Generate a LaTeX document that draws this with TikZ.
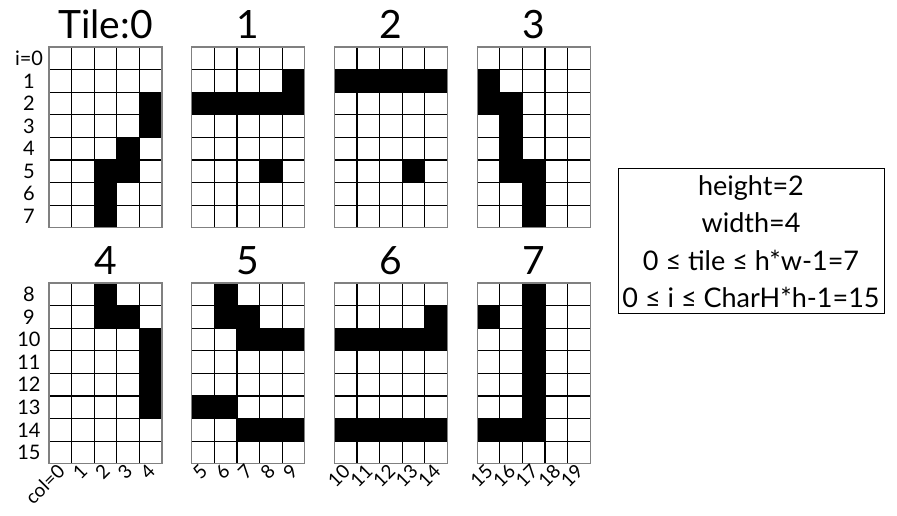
\documentclass[tikz,border=0pt]{standalone}
\usepackage{fontspec}
\setmainfont{Lato}
\begin{document}
\begin{tikzpicture}
  [x=1pt,y=1pt,line width=1.2pt,
   title/.style={font=\fontsize{39}{42}\selectfont,anchor=base,inner sep=0pt},
   rowlabel/.style={font=\fontsize{20}{22}\selectfont,inner sep=0pt},
   collabel/.style={font=\fontsize{19}{21}\selectfont,rotate=45,anchor=east,inner sep=1pt},
   infobox/.style={draw,line width=1pt,minimum width=266,minimum height=145,align=center,
     font=\fontsize{27}{37.5}\selectfont}]
  \useasboundingbox (0,0) rectangle (897,516);
  \def\s{22.6}

  % black cells, tile/row/col
  \foreach \t/\r/\c in {0/2/4,0/3/4,0/4/3,0/5/3,0/5/2,0/6/2,0/7/2,
      1/1/4,1/2/0,1/2/1,1/2/2,1/2/3,1/2/4,1/5/3,
      2/1/0,2/1/1,2/1/2,2/1/3,2/1/4,2/5/3,
      3/1/0,3/2/0,3/2/1,3/3/1,3/4/1,3/5/1,3/5/2,3/6/2,3/7/2,
      4/0/2,4/1/2,4/1/3,4/2/4,4/3/4,4/4/4,4/5/4,
      5/0/1,5/1/1,5/1/2,5/2/2,5/2/3,5/2/4,5/5/0,5/5/1,5/6/2,5/6/3,5/6/4,
      6/1/4,6/2/0,6/2/1,6/2/2,6/2/3,6/2/4,6/6/0,6/6/1,6/6/2,6/6/3,6/6/4,
      7/0/2,7/1/2,7/2/2,7/3/2,7/4/2,7/5/2,7/6/2,7/1/0,7/6/0,7/6/1} {
    \pgfmathsetmacro\tx{49+142.7*mod(\t,4)}
    \pgfmathsetmacro\ty{469-236*int(\t/4)}
    \fill (\tx+\c*\s,\ty-\r*\s) rectangle ++(\s,-\s);
  }

  % grids and titles
  \foreach \t/\name in {0/Tile:0,1/1,2/2,3/3,4/4,5/5,6/6,7/7} {
    \pgfmathsetmacro\tx{49+142.7*mod(\t,4)}
    \pgfmathsetmacro\ty{469-236*int(\t/4)}
    \foreach \i in {1,...,4}
      \draw (\tx+\i*\s,\ty) -- ++(0,-8*\s);
    \foreach \j in {1,...,7}
      \draw (\tx,\ty-\j*\s) -- ++(5*\s,0);
    \draw[gray] (\tx,\ty) rectangle ++(5*\s,-8*\s);
    \node[title] (title\t) at (\tx+2.5*\s,\ty+8) {\name};
  }

  % row labels
  \foreach \r/\txt in {0/i=0,1/1,2/2,3/3,4/4,5/5,6/6,7/7,8/8,9/9,10/10,11/11,12/12,13/13,14/14,15/15} {
    \pgfmathsetmacro\ly{469-236*int(\r/8)-\s*(mod(\r,8)+0.5)}
    \node[rowlabel] (row\r) at (29,\ly) {\txt};
  }

  % column labels
  \foreach \c/\txt in {0/col=0,1/1,2/2,3/3,4/4,5/5,6/6,7/7,8/8,9/9,10/10,11/11,12/12,13/13,14/14,15/15,16/16,17/17,18/18,19/19} {
    \pgfmathsetmacro\lx{49+142.7*int(\c/5)+\s*(mod(\c,5)+0.5)+2}
    \node[collabel] (col\c) at (\lx,49) {\txt};
  }

  \node[infobox] (info) at (751,274.5)
    {height=2\\width=4\\0 ≤ tile ≤ h*w-1=7\\0 ≤ i ≤ CharH*h-1=15};
\end{tikzpicture}
\end{document}
